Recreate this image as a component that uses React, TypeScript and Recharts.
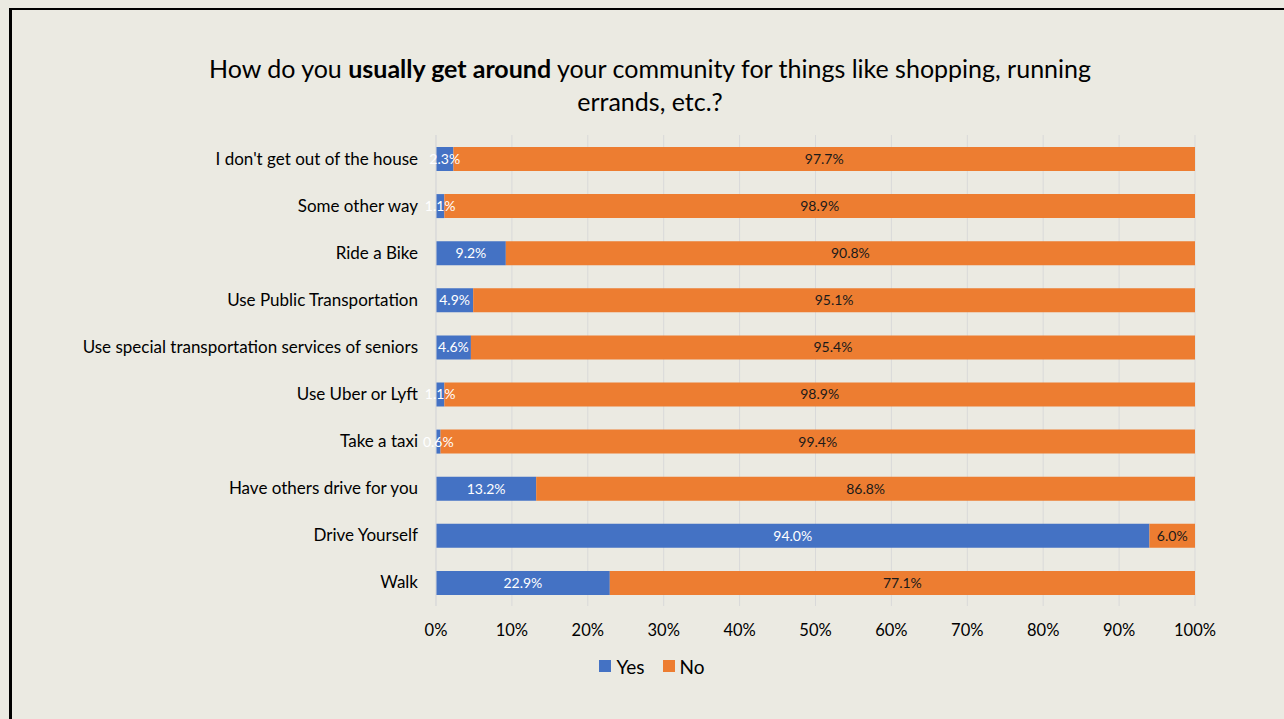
import React from "react";
import { BarChart, Bar, XAxis, YAxis, CartesianGrid, Legend, LabelList } from "recharts";

const categories = [
  "I don't get out of the house",
  "Some other way",
  "Ride a Bike",
  "Use Public Transportation",
  "Use special transportation services of seniors",
  "Use Uber or Lyft",
  "Take a taxi",
  "Have others drive for you",
  "Drive Yourself",
  "Walk",
];
const yesValues = [2.3, 1.1, 9.2, 4.9, 4.6, 1.1, 0.6, 13.2, 94.0, 22.9];
const noValues = [97.7, 98.9, 90.8, 95.1, 95.4, 98.9, 99.4, 86.8, 6.0, 77.1];
const xTicks = [0, 10, 20, 30, 40, 50, 60, 70, 80, 90, 100];
const seriesNames = ["Yes", "No"];
const seriesColors = ["#4472C4", "#ED7D31"];

const data = categories.map((name, i) => ({ name, Yes: yesValues[i], No: noValues[i] }));

const FONT = "Lato, 'Liberation Sans', sans-serif";
const fmt = (v: any) => `${Number(v).toFixed(1)}%`;

const LegendContent = () => (
  <div style={{ display: "flex", justifyContent: "center", alignItems: "center", fontSize: 19, fontFamily: FONT, color: "#000", height: 28 }}>
    {seriesNames.map((n, i) => (
      <div key={n} style={{ display: "flex", alignItems: "center", marginLeft: i === 0 ? 0 : 18 }}>
        <span style={{ display: "inline-block", width: 12, height: 12, background: seriesColors[i], marginRight: 5 }} />
        <span>{n}</span>
      </div>
    ))}
  </div>
);

export default function App() {
  return (
    <div style={{ position: "absolute", left: 0, top: 0, width: 1284, height: 719, background: "#EBEAE2", overflow: "hidden", fontFamily: FONT }}>
      <div style={{ position: "absolute", left: 9, top: 8, width: 1400, height: 900, borderLeft: "3px solid #000", borderTop: "2px solid #000" }} />
      <div style={{ position: "absolute", left: 0, top: 52, width: 1300, textAlign: "center", fontSize: 25, lineHeight: "33px", color: "#000" }}>
        How do you <b>usually get around</b> your community for things like shopping, running
        <br />
        errands, etc.?
      </div>
      <div style={{ position: "absolute", left: 0, top: 0 }}>
        <BarChart
          width={1284}
          height={719}
          data={data}
          layout="vertical"
          margin={{ top: 135, right: 89, bottom: 0, left: 0 }}
          barSize={24}
        >
          <CartesianGrid horizontal={false} vertical={true} stroke="#D9D9D9" />
          <XAxis
            type="number"
            domain={[0, 100]}
            ticks={xTicks}
            tickFormatter={(v) => `${v}%`}
            axisLine={false}
            tickLine={false}
            height={73}
            tickMargin={12}
            tick={{ fill: "#000", fontSize: 16.5, fontFamily: FONT }}
            interval={0}
          />
          <YAxis
            type="category"
            dataKey="name"
            width={436}
            axisLine={{ stroke: "#D9D9D9" }}
            tickLine={false}
            tickMargin={12}
            tick={{ fill: "#000", fontSize: 17, fontFamily: FONT }}
            interval={0}
          />
          <Legend
            verticalAlign="bottom"
            content={<LegendContent />}
            wrapperStyle={{ top: 652, left: 0, width: 1304, height: 40 }}
          />
          <Bar dataKey="Yes" stackId="a" fill={seriesColors[0]} isAnimationActive={false}>
            <LabelList dataKey="Yes" position="center" formatter={fmt} fill="#fff" style={{ fontSize: 14, fontFamily: FONT }} />
          </Bar>
          <Bar dataKey="No" stackId="a" fill={seriesColors[1]} isAnimationActive={false}>
            <LabelList dataKey="No" position="center" formatter={fmt} fill="#1a1a1a" style={{ fontSize: 14, fontFamily: FONT }} />
          </Bar>
        </BarChart>
      </div>
    </div>
  );
}
